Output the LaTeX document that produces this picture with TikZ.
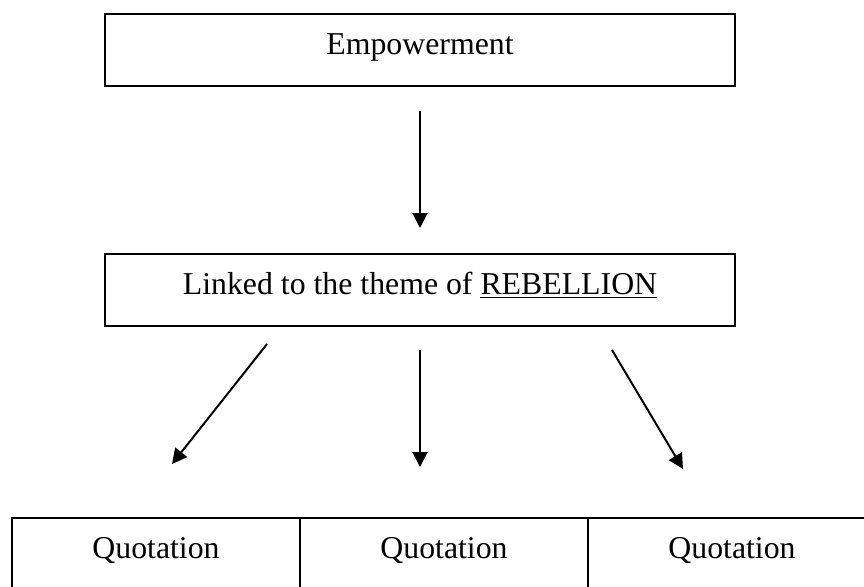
\documentclass[tikz,border=0pt]{standalone}
\usepackage{fontspec}
\setmainfont{Liberation Serif}
\usetikzlibrary{arrows.meta}

\begin{document}
\begin{tikzpicture}[x=0.5pt, y=-0.5pt, line width=1pt, >={Triangle[length=7.5pt,width=7.5pt]},
    font=\fontsize{15.9}{19}\selectfont,
    box/.style={draw, inner sep=0pt, minimum width=315pt, text height=20pt, text depth=16pt},
    cell/.style={draw, inner sep=0pt, minimum width=144pt, text height=20pt, text depth=22pt},
    link/.style={->, line width=1pt}]
  \useasboundingbox (0,0) rectangle (864,586);
  % ---------------- boxes ----------------
  \node[box] (emp) at (420,50)  {Empowerment};
  \node[box] (reb) at (420,290) {Linked to the theme of \underline{REBELLION}};
  \draw[link, shorten <=12pt, shorten >=12.5pt] (emp) -- (reb);
  % ---------------- quotation table ----------------
  \node[cell] (q1) at (156,560) {Quotation};
  \node[cell] (q2) at (444,560) {Quotation};
  \node[cell] (q3) at (732,560) {Quotation};
  % arrows down to the table
  \coordinate (a1) at (267,344); \coordinate (b1) at (172,464);
  \coordinate (a2) at (420,350); \coordinate (b2) at (420,467);
  \coordinate (a3) at (612,350); \coordinate (b3) at (683,469);
  \foreach \i in {1,2,3} \draw[link] (a\i) -- (b\i);
\end{tikzpicture}
\end{document}
